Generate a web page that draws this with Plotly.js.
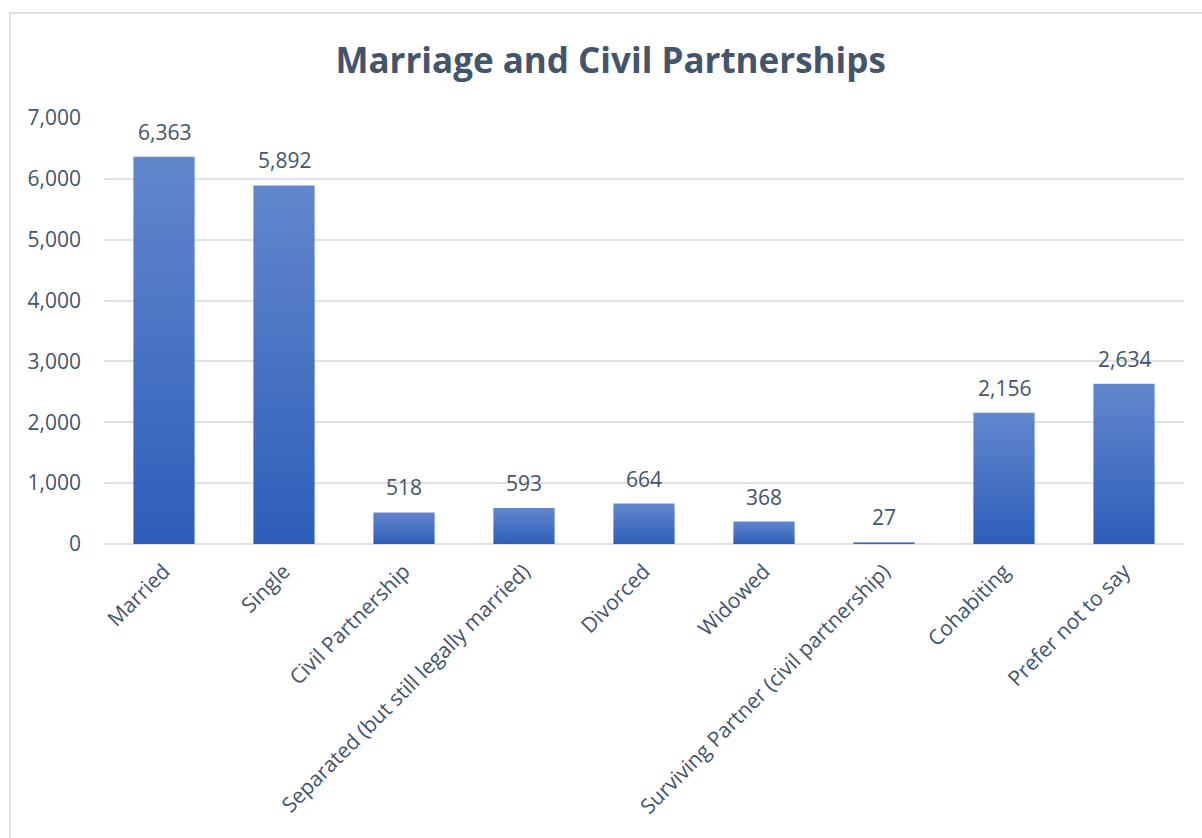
<!DOCTYPE html>
<html>
<head>
<meta charset="utf-8">
<script src="https://cdn.plot.ly/plotly-3.0.1.min.js"></script>
<style>
html,body{margin:0;padding:0;background:#fff;overflow:hidden;}
#frame{position:absolute;left:9px;top:12px;width:1300px;height:900px;border:2px solid #DCE1E8;box-sizing:border-box;}
#chart{position:absolute;left:0;top:0;width:1202px;height:838px;}
</style>
</head>
<body>
<div id="frame"></div>
<div id="chart"></div>
<script>
const categories = ["Married","Single","Civil Partnership","Separated (but still legally married)","Divorced","Widowed","Surviving Partner (civil partnership)","Cohabiting","Prefer not to say"];
const counts = [6363,5892,518,593,664,368,27,2156,2634];
const yTickVals = [0,1000,2000,3000,4000,5000,6000,7000];
const chartTitle = "Marriage and Civil Partnerships";

const textColor = "#44546A";
const fontFam = "'Open Sans', sans-serif";

const trace = {
  type: "bar",
  x: categories,
  y: counts,
  marker: {color: "#4472C4"},
  hoverinfo: "none"
};

const annotations = categories.map((c, i) => ({
  x: c, y: counts[i], xref: "x", yref: "y",
  text: counts[i].toLocaleString("en-US"),
  showarrow: false, yanchor: "bottom", yshift: 9,
  font: {family: fontFam, size: 21, color: textColor}
}));

const layout = {
  width: 1202, height: 838,
  paper_bgcolor: "rgba(0,0,0,0)",
  plot_bgcolor: "rgba(0,0,0,0)",
  margin: {l: 104, r: 18, t: 118, b: 294},
  bargap: 0.49,
  showlegend: false,
  annotations: annotations,
  title: {
    text: "<b>" + chartTitle + "</b>",
    font: {family: fontFam, size: 35, color: textColor},
    x: 0.508, xanchor: "center", xref: "container",
    y: 0.928, yanchor: "middle", yref: "container"
  },
  xaxis: {
    type: "category",
    tickangle: -45,
    tickfont: {family: fontFam, size: 21, color: textColor},
    showgrid: false, zeroline: false, showline: false, ticks: "",
    ticklabelstandoff: 10
  },
  yaxis: {
    range: [0, 7000],
    tickvals: yTickVals,
    ticktext: yTickVals.map(v => v.toLocaleString("en-US")),
    tickfont: {family: fontFam, size: 21, color: textColor},
    showgrid: true, gridcolor: "#DDE1E8", gridwidth: 2,
    zeroline: true, zerolinecolor: "#DDE1E8", zerolinewidth: 2,
    showline: false, ticks: "",
    ticklabelstandoff: 22
  }
};

Plotly.newPlot("chart", [trace], layout, {staticPlot: true, displayModeBar: false}).then(gd => {
  const svg = gd.querySelector("svg.main-svg");
  const ns = "http://www.w3.org/2000/svg";
  let defs = svg.querySelector("defs");
  if (!defs) { defs = document.createElementNS(ns, "defs"); svg.insertBefore(defs, svg.firstChild); }
  const lg = document.createElementNS(ns, "linearGradient");
  lg.setAttribute("id", "barGrad");
  lg.setAttribute("x1", "0"); lg.setAttribute("y1", "0");
  lg.setAttribute("x2", "0"); lg.setAttribute("y2", "1");
  [["0%", "#6287CC"], ["100%", "#2E5EBA"]].forEach(([o, c]) => {
    const s = document.createElementNS(ns, "stop");
    s.setAttribute("offset", o); s.setAttribute("stop-color", c);
    lg.appendChild(s);
  });
  defs.appendChild(lg);
  gd.querySelectorAll(".bars .point path").forEach(p => { p.style.fill = "url(#barGrad)"; });
});
</script>
</body>
</html>
